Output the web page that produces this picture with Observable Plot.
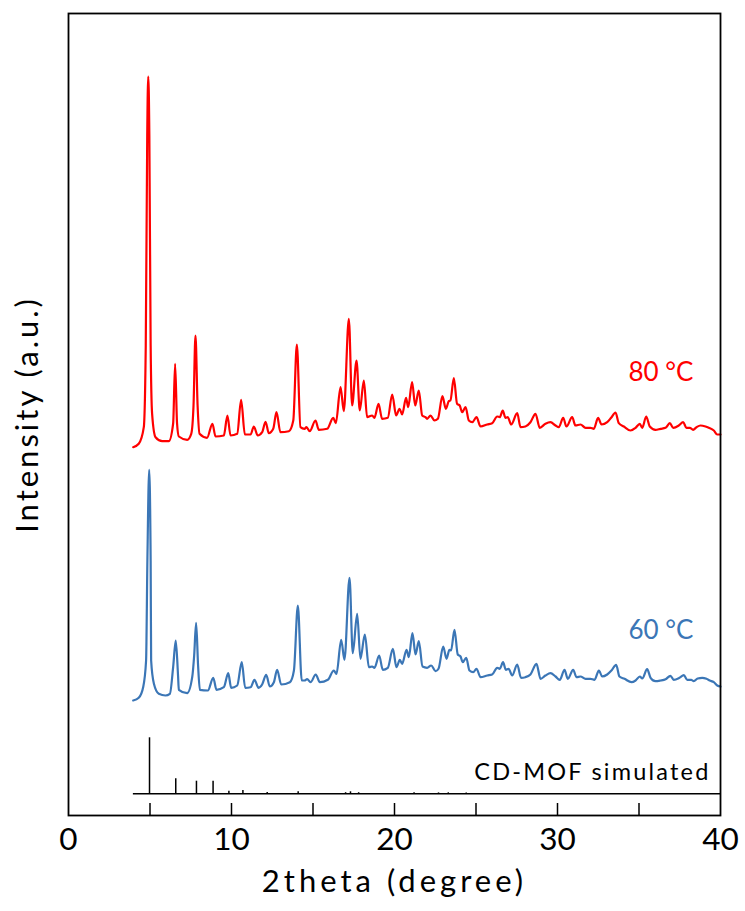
<!DOCTYPE html>
<html>
<head>
<meta charset="utf-8">
<script src="https://cdn.jsdelivr.net/npm/d3@7"></script>
<script src="https://cdn.jsdelivr.net/npm/@observablehq/plot@0.6"></script>
<style>
  html, body { margin: 0; padding: 0; background: #fff; }
  #chart { width: 745px; height: 911px; }
</style>
</head>
<body>
<div id="chart"></div>
<script>
// 2theta (degree) and intensity (a.u., stacked)
const theta80 = [3.97,4.31,4.62,4.74,4.83,4.89,4.96,5.04,5.13,5.34,5.75,6.15,6.42,6.54,6.66,6.77,7.28,7.53,7.67,7.79,7.92,8.04,8.5,8.83,9.02,9.53,9.75,9.94,10.35,10.59,10.82,11.17,11.37,11.61,11.88,12.09,12.29,12.56,12.76,13.0,13.52,13.79,14.01,14.23,14.48,14.6,14.8,15.15,15.36,15.87,16.24,16.4,16.69,16.89,17.2,17.4,17.67,17.87,18.12,18.32,18.63,18.77,19.02,19.24,19.59,19.86,20.1,20.31,20.47,20.71,20.84,21.08,21.27,21.49,21.7,21.9,22.0,22.21,22.45,22.66,22.94,23.15,23.33,23.43,23.64,23.84,24.0,24.15,24.36,24.56,24.77,25.03,25.28,25.69,25.99,26.3,26.46,26.64,26.81,26.95,27.16,27.53,27.73,28.03,28.34,28.65,28.91,29.26,29.57,29.88,30.08,30.35,30.55,30.9,31.1,31.41,31.72,32.02,32.23,32.49,32.7,33.05,33.29,33.56,33.76,34.07,34.48,34.79,35.05,35.2,35.44,35.66,36.01,36.32,36.63,36.89,37.1,37.44,37.71,37.91,38.12,38.32,38.53,38.77,39.08,39.28,39.59,39.8,40.0];
const int80 = [368.3,371.7,388.3,470,680,739,680,470,401.7,378.3,374.3,374.3,392,451.7,392,379,375.7,381.7,410,480,410,381.7,377.7,391.7,379,380,400,380,381.7,415.7,381,381,389,380,383.3,393.7,382.3,386.7,403.3,383.3,384.3,395,471,388.3,386.7,388.3,384.3,395,385.7,386.7,397.7,392.3,428.3,404.3,496.7,410,455,405,435,398.3,400,397.7,411.7,396.7,397.7,421,400,406.7,401,417.7,408.3,433.3,410,425,400,398.3,396.7,400,395,396.7,419.3,406.7,414.3,415,437.3,411.7,410,403.3,408.3,395,393.3,398.3,389,391,392.3,399,398.3,405,397.7,398.3,391,402.3,388.3,389,393.3,401.7,387.7,391.7,393.3,390,388.3,397.7,389,398.3,390,391,387.7,387.7,386.7,397.7,391,393.3,397.7,403,392.3,389,385,387.7,391.7,387.7,399,389,385.7,386.7,387.7,392.3,387.7,390,393.3,387.7,387.7,385.7,388.3,390,389,387.7,385,381,381];

const theta60 = [3.97,4.31,4.58,4.76,4.84,4.95,5.04,5.07,5.24,5.54,5.95,6.22,6.42,6.58,6.72,6.77,7.28,7.59,7.71,7.83,7.95,8.06,8.55,8.88,9.08,9.53,9.8,9.98,10.35,10.63,10.84,11.17,11.41,11.66,11.88,12.13,12.35,12.6,12.8,13.05,13.58,13.83,14.07,14.31,14.48,14.64,14.85,15.17,15.42,15.91,16.28,16.44,16.73,16.93,17.24,17.44,17.71,17.91,18.18,18.43,18.63,18.77,19.06,19.28,19.59,19.9,20.12,20.33,20.47,20.74,20.88,21.1,21.29,21.49,21.72,22.0,22.25,22.52,22.7,22.99,23.19,23.37,23.47,23.68,23.88,24.05,24.19,24.4,24.6,24.83,25.03,25.28,25.69,25.99,26.3,26.46,26.66,26.83,27.0,27.22,27.53,27.76,28.03,28.34,28.71,28.96,29.26,29.57,29.88,30.14,30.43,30.63,30.96,31.17,31.41,31.72,32.02,32.27,32.54,32.74,33.05,33.31,33.6,33.8,34.11,34.54,34.79,35.05,35.2,35.5,35.71,36.01,36.32,36.63,36.93,37.13,37.48,37.75,37.96,38.2,38.36,38.6,38.88,39.14,39.34,39.59,39.8,40.0];
const int60 = [115,117.7,128.3,155,255,345.7,255,155,131.7,121.7,120,121.7,148.3,175,140,125.7,122.3,138.3,160,192.7,150,125.7,125,137.7,125.7,128.3,142.3,127.7,130,153.3,127.7,128.3,135.7,127.7,131,140.7,129,133.3,145.7,131,133.3,145,210,135,135,136.3,133.3,141,133.3,135.7,145,141.7,175.7,155.7,237.7,162.3,201.7,156.7,181,148.3,149,147.7,160,145.7,147.7,166.7,148.3,155.7,151.7,165.7,158.3,182.3,161,174.3,149,147.7,150,144.3,146.7,169,156.7,165.7,165,185.7,161,159,153.3,157.7,145,143.3,146.7,138.3,140,141,147.7,146.7,153.3,145.7,146.7,140,151,137.7,138.3,141,151.7,136.7,140,142.3,139,135.7,145.7,136.7,145.7,138.3,139,136.7,136.7,135.7,145,139,141,145,150.7,139,136.7,133.3,135,139,137,146.3,137.7,134.3,135,136.3,139.7,135.7,137.7,140.3,135.7,135.7,134.3,137,137.7,136.7,135,133.3,130,129];

const simTheta = [4.97,6.58,7.85,8.87,9.84,10.7,12.19,14.09,17.0,17.3,17.8,21.2,22.7,23.3,24.4];
const simPeak = [77.7,36.7,34.3,34.3,24.3,25,23,23.7,22.8,23.7,22.8,22.7,22.6,22.7,22.6];
const simBase = 21.8;
const simRange = [3.98, 40];

const xMinorTicks = [5,10,15,20,25,30,35];
const xTickLabels = [0,10,20,30,40];

const series80 = theta80.map((t, i) => ({t, v: int80[i]}));
const series60 = theta60.map((t, i) => ({t, v: int60[i]}));
const sims = simTheta.map((t, i) => ({t, v: simPeak[i]}));

const RED = "#ff0000";
const BLUE = "#3b76b6";
const FONT = "Lato, 'Open Sans', sans-serif";
const innerH = 911 - 13 - 96;

const chart = Plot.plot({
  width: 745,
  height: 911,
  marginLeft: 68,
  marginRight: 25,
  marginTop: 13,
  marginBottom: 96,
  style: {fontFamily: FONT, background: "#fff", color: "#000"},
  x: {domain: [0, 40]},
  y: {domain: [0, 802]},
  marks: [
    Plot.ruleY([simBase], {x1: simRange[0], x2: simRange[1], stroke: "#000", strokeWidth: 1.5}),
    Plot.ruleX(sims, {x: "t", y1: simBase, y2: "v", stroke: "#000", strokeWidth: 1.5}),
    Plot.line(series60, {x: "t", y: "v", stroke: BLUE, strokeWidth: 2.2, curve: "monotone-x"}),
    Plot.line(series80, {x: "t", y: "v", stroke: RED, strokeWidth: 2.2, curve: "monotone-x"}),
    Plot.ruleX(xMinorTicks, {stroke: "#000", strokeWidth: 1.5, insetTop: innerH - 12}),
    Plot.frame({stroke: "#000", strokeWidth: 1.8}),
    Plot.axisX(xTickLabels, {tickSize: 0, tickPadding: 12, fontSize: 31.5, label: null}),
    Plot.axisY({ticks: [], label: null}),
    Plot.text(["2theta (degree)"], {frameAnchor: "bottom", dy: 66.5, fontSize: 31, lineAnchor: "middle", textAnchor: "middle"}),
    Plot.text(["Intensity (a.u.)"], {frameAnchor: "left", dx: -40, rotate: -90, fontSize: 31, lineAnchor: "middle", textAnchor: "middle"}),
    Plot.text(["80 °C"], {frameAnchor: "top-right", dx: -27, dy: 359, textAnchor: "end", lineAnchor: "middle", fontSize: 26, fill: RED}),
    Plot.text(["60 °C"], {frameAnchor: "top-right", dx: -27, dy: 617, textAnchor: "end", lineAnchor: "middle", fontSize: 26, fill: BLUE}),
    Plot.text(["CD-MOF simulated"], {frameAnchor: "top-right", dx: -10, dy: 758.5, textAnchor: "end", lineAnchor: "middle", fontSize: 23.5, fill: "#000"})
  ]
});
// wider letter spacing, as in the reference typeface
const spacing = {"2theta (degree)": "4px", "Intensity (a.u.)": "3px", "CD-MOF simulated": "2.2px"};
chart.querySelectorAll("text").forEach(t => {
  const s = spacing[t.textContent];
  if (s) t.style.letterSpacing = s;
});
document.getElementById("chart").appendChild(chart);
</script>
</body>
</html>
